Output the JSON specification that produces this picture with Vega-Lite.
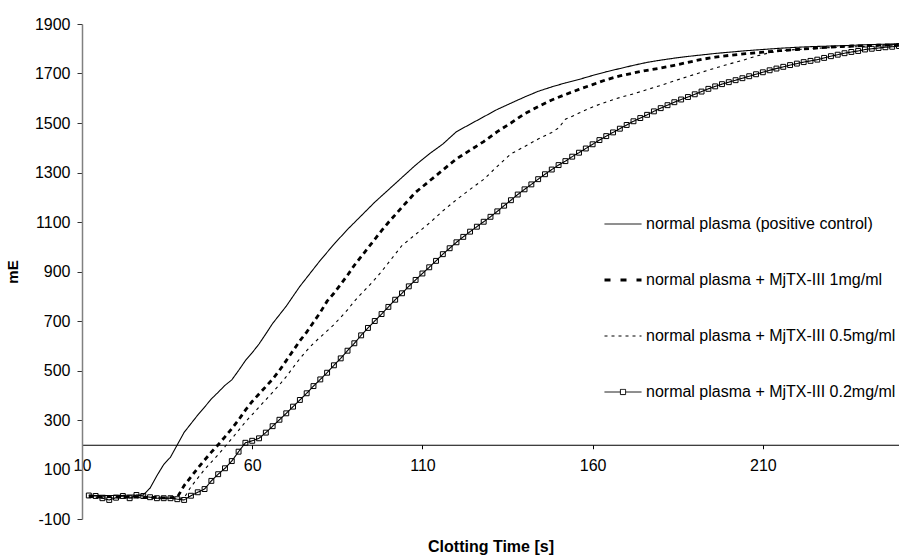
{
  "$schema": "https://vega.github.io/schema/vega-lite/v6.json",
  "width": 817,
  "height": 495,
  "autosize": {"type": "none"},
  "padding": {"left": 82, "top": 24, "right": 0, "bottom": 37},
  "background": "white",
  "config": {
    "view": {"stroke": null},
    "font": "Liberation Sans",
    "axis": {"grid": false, "labelFont": "Liberation Sans", "titleFont": "Liberation Sans", "labelColor": "#000", "titleColor": "#000"}
  },
  "datasets": {
    "clotting": [
      {"t": 12, "mE": -3, "sample": "normal plasma (positive control)"},
      {"t": 14, "mE": -5, "sample": "normal plasma (positive control)"},
      {"t": 16, "mE": -4, "sample": "normal plasma (positive control)"},
      {"t": 18, "mE": -6, "sample": "normal plasma (positive control)"},
      {"t": 20, "mE": -4, "sample": "normal plasma (positive control)"},
      {"t": 22, "mE": -5, "sample": "normal plasma (positive control)"},
      {"t": 24, "mE": -3, "sample": "normal plasma (positive control)"},
      {"t": 26, "mE": -4, "sample": "normal plasma (positive control)"},
      {"t": 28, "mE": -3, "sample": "normal plasma (positive control)"},
      {"t": 30, "mE": 25, "sample": "normal plasma (positive control)"},
      {"t": 32, "mE": 75, "sample": "normal plasma (positive control)"},
      {"t": 34, "mE": 120, "sample": "normal plasma (positive control)"},
      {"t": 36, "mE": 150, "sample": "normal plasma (positive control)"},
      {"t": 38, "mE": 200, "sample": "normal plasma (positive control)"},
      {"t": 40, "mE": 250, "sample": "normal plasma (positive control)"},
      {"t": 42, "mE": 285, "sample": "normal plasma (positive control)"},
      {"t": 44, "mE": 320, "sample": "normal plasma (positive control)"},
      {"t": 46, "mE": 352, "sample": "normal plasma (positive control)"},
      {"t": 48, "mE": 385, "sample": "normal plasma (positive control)"},
      {"t": 50, "mE": 412, "sample": "normal plasma (positive control)"},
      {"t": 52, "mE": 440, "sample": "normal plasma (positive control)"},
      {"t": 54, "mE": 462, "sample": "normal plasma (positive control)"},
      {"t": 56, "mE": 500, "sample": "normal plasma (positive control)"},
      {"t": 58, "mE": 540, "sample": "normal plasma (positive control)"},
      {"t": 60, "mE": 572, "sample": "normal plasma (positive control)"},
      {"t": 62, "mE": 607, "sample": "normal plasma (positive control)"},
      {"t": 64, "mE": 648, "sample": "normal plasma (positive control)"},
      {"t": 66, "mE": 690, "sample": "normal plasma (positive control)"},
      {"t": 68, "mE": 725, "sample": "normal plasma (positive control)"},
      {"t": 70, "mE": 760, "sample": "normal plasma (positive control)"},
      {"t": 72, "mE": 800, "sample": "normal plasma (positive control)"},
      {"t": 74, "mE": 840, "sample": "normal plasma (positive control)"},
      {"t": 76, "mE": 875, "sample": "normal plasma (positive control)"},
      {"t": 78, "mE": 910, "sample": "normal plasma (positive control)"},
      {"t": 80, "mE": 945, "sample": "normal plasma (positive control)"},
      {"t": 84, "mE": 1010, "sample": "normal plasma (positive control)"},
      {"t": 88, "mE": 1070, "sample": "normal plasma (positive control)"},
      {"t": 92, "mE": 1125, "sample": "normal plasma (positive control)"},
      {"t": 96, "mE": 1180, "sample": "normal plasma (positive control)"},
      {"t": 100, "mE": 1230, "sample": "normal plasma (positive control)"},
      {"t": 104, "mE": 1280, "sample": "normal plasma (positive control)"},
      {"t": 108, "mE": 1330, "sample": "normal plasma (positive control)"},
      {"t": 112, "mE": 1375, "sample": "normal plasma (positive control)"},
      {"t": 116, "mE": 1415, "sample": "normal plasma (positive control)"},
      {"t": 120, "mE": 1465, "sample": "normal plasma (positive control)"},
      {"t": 124, "mE": 1495, "sample": "normal plasma (positive control)"},
      {"t": 128, "mE": 1525, "sample": "normal plasma (positive control)"},
      {"t": 132, "mE": 1555, "sample": "normal plasma (positive control)"},
      {"t": 136, "mE": 1580, "sample": "normal plasma (positive control)"},
      {"t": 140, "mE": 1605, "sample": "normal plasma (positive control)"},
      {"t": 144, "mE": 1628, "sample": "normal plasma (positive control)"},
      {"t": 148, "mE": 1646, "sample": "normal plasma (positive control)"},
      {"t": 152, "mE": 1662, "sample": "normal plasma (positive control)"},
      {"t": 156, "mE": 1676, "sample": "normal plasma (positive control)"},
      {"t": 160, "mE": 1692, "sample": "normal plasma (positive control)"},
      {"t": 164, "mE": 1707, "sample": "normal plasma (positive control)"},
      {"t": 168, "mE": 1720, "sample": "normal plasma (positive control)"},
      {"t": 172, "mE": 1733, "sample": "normal plasma (positive control)"},
      {"t": 176, "mE": 1745, "sample": "normal plasma (positive control)"},
      {"t": 180, "mE": 1754, "sample": "normal plasma (positive control)"},
      {"t": 184, "mE": 1762, "sample": "normal plasma (positive control)"},
      {"t": 188, "mE": 1769, "sample": "normal plasma (positive control)"},
      {"t": 192, "mE": 1775, "sample": "normal plasma (positive control)"},
      {"t": 196, "mE": 1781, "sample": "normal plasma (positive control)"},
      {"t": 200, "mE": 1786, "sample": "normal plasma (positive control)"},
      {"t": 205, "mE": 1792, "sample": "normal plasma (positive control)"},
      {"t": 210, "mE": 1797, "sample": "normal plasma (positive control)"},
      {"t": 215, "mE": 1802, "sample": "normal plasma (positive control)"},
      {"t": 220, "mE": 1806, "sample": "normal plasma (positive control)"},
      {"t": 225, "mE": 1809, "sample": "normal plasma (positive control)"},
      {"t": 230, "mE": 1811, "sample": "normal plasma (positive control)"},
      {"t": 235, "mE": 1813, "sample": "normal plasma (positive control)"},
      {"t": 240, "mE": 1816, "sample": "normal plasma (positive control)"},
      {"t": 245, "mE": 1818, "sample": "normal plasma (positive control)"},
      {"t": 250, "mE": 1819, "sample": "normal plasma (positive control)"},

      {"t": 12, "mE": -8, "sample": "normal plasma + MjTX-III 1mg/ml"},
      {"t": 14, "mE": -10, "sample": "normal plasma + MjTX-III 1mg/ml"},
      {"t": 16, "mE": -12, "sample": "normal plasma + MjTX-III 1mg/ml"},
      {"t": 18, "mE": -9, "sample": "normal plasma + MjTX-III 1mg/ml"},
      {"t": 20, "mE": -11, "sample": "normal plasma + MjTX-III 1mg/ml"},
      {"t": 22, "mE": -13, "sample": "normal plasma + MjTX-III 1mg/ml"},
      {"t": 24, "mE": -10, "sample": "normal plasma + MjTX-III 1mg/ml"},
      {"t": 26, "mE": -12, "sample": "normal plasma + MjTX-III 1mg/ml"},
      {"t": 28, "mE": -14, "sample": "normal plasma + MjTX-III 1mg/ml"},
      {"t": 30, "mE": -12, "sample": "normal plasma + MjTX-III 1mg/ml"},
      {"t": 32, "mE": -13, "sample": "normal plasma + MjTX-III 1mg/ml"},
      {"t": 34, "mE": -15, "sample": "normal plasma + MjTX-III 1mg/ml"},
      {"t": 36, "mE": -14, "sample": "normal plasma + MjTX-III 1mg/ml"},
      {"t": 38, "mE": -12, "sample": "normal plasma + MjTX-III 1mg/ml"},
      {"t": 40, "mE": 35, "sample": "normal plasma + MjTX-III 1mg/ml"},
      {"t": 42, "mE": 70, "sample": "normal plasma + MjTX-III 1mg/ml"},
      {"t": 44, "mE": 105, "sample": "normal plasma + MjTX-III 1mg/ml"},
      {"t": 46, "mE": 138, "sample": "normal plasma + MjTX-III 1mg/ml"},
      {"t": 48, "mE": 170, "sample": "normal plasma + MjTX-III 1mg/ml"},
      {"t": 50, "mE": 200, "sample": "normal plasma + MjTX-III 1mg/ml"},
      {"t": 52, "mE": 232, "sample": "normal plasma + MjTX-III 1mg/ml"},
      {"t": 54, "mE": 265, "sample": "normal plasma + MjTX-III 1mg/ml"},
      {"t": 56, "mE": 300, "sample": "normal plasma + MjTX-III 1mg/ml"},
      {"t": 58, "mE": 340, "sample": "normal plasma + MjTX-III 1mg/ml"},
      {"t": 60, "mE": 375, "sample": "normal plasma + MjTX-III 1mg/ml"},
      {"t": 62, "mE": 405, "sample": "normal plasma + MjTX-III 1mg/ml"},
      {"t": 64, "mE": 435, "sample": "normal plasma + MjTX-III 1mg/ml"},
      {"t": 66, "mE": 465, "sample": "normal plasma + MjTX-III 1mg/ml"},
      {"t": 68, "mE": 500, "sample": "normal plasma + MjTX-III 1mg/ml"},
      {"t": 70, "mE": 540, "sample": "normal plasma + MjTX-III 1mg/ml"},
      {"t": 72, "mE": 580, "sample": "normal plasma + MjTX-III 1mg/ml"},
      {"t": 74, "mE": 620, "sample": "normal plasma + MjTX-III 1mg/ml"},
      {"t": 76, "mE": 655, "sample": "normal plasma + MjTX-III 1mg/ml"},
      {"t": 78, "mE": 695, "sample": "normal plasma + MjTX-III 1mg/ml"},
      {"t": 80, "mE": 735, "sample": "normal plasma + MjTX-III 1mg/ml"},
      {"t": 82, "mE": 780, "sample": "normal plasma + MjTX-III 1mg/ml"},
      {"t": 84, "mE": 812, "sample": "normal plasma + MjTX-III 1mg/ml"},
      {"t": 86, "mE": 848, "sample": "normal plasma + MjTX-III 1mg/ml"},
      {"t": 88, "mE": 885, "sample": "normal plasma + MjTX-III 1mg/ml"},
      {"t": 90, "mE": 925, "sample": "normal plasma + MjTX-III 1mg/ml"},
      {"t": 92, "mE": 960, "sample": "normal plasma + MjTX-III 1mg/ml"},
      {"t": 94, "mE": 995, "sample": "normal plasma + MjTX-III 1mg/ml"},
      {"t": 96, "mE": 1030, "sample": "normal plasma + MjTX-III 1mg/ml"},
      {"t": 98, "mE": 1065, "sample": "normal plasma + MjTX-III 1mg/ml"},
      {"t": 100, "mE": 1098, "sample": "normal plasma + MjTX-III 1mg/ml"},
      {"t": 104, "mE": 1160, "sample": "normal plasma + MjTX-III 1mg/ml"},
      {"t": 108, "mE": 1220, "sample": "normal plasma + MjTX-III 1mg/ml"},
      {"t": 112, "mE": 1265, "sample": "normal plasma + MjTX-III 1mg/ml"},
      {"t": 116, "mE": 1310, "sample": "normal plasma + MjTX-III 1mg/ml"},
      {"t": 120, "mE": 1355, "sample": "normal plasma + MjTX-III 1mg/ml"},
      {"t": 124, "mE": 1390, "sample": "normal plasma + MjTX-III 1mg/ml"},
      {"t": 128, "mE": 1425, "sample": "normal plasma + MjTX-III 1mg/ml"},
      {"t": 132, "mE": 1465, "sample": "normal plasma + MjTX-III 1mg/ml"},
      {"t": 136, "mE": 1500, "sample": "normal plasma + MjTX-III 1mg/ml"},
      {"t": 140, "mE": 1537, "sample": "normal plasma + MjTX-III 1mg/ml"},
      {"t": 144, "mE": 1566, "sample": "normal plasma + MjTX-III 1mg/ml"},
      {"t": 148, "mE": 1593, "sample": "normal plasma + MjTX-III 1mg/ml"},
      {"t": 152, "mE": 1615, "sample": "normal plasma + MjTX-III 1mg/ml"},
      {"t": 156, "mE": 1636, "sample": "normal plasma + MjTX-III 1mg/ml"},
      {"t": 160, "mE": 1655, "sample": "normal plasma + MjTX-III 1mg/ml"},
      {"t": 164, "mE": 1675, "sample": "normal plasma + MjTX-III 1mg/ml"},
      {"t": 168, "mE": 1690, "sample": "normal plasma + MjTX-III 1mg/ml"},
      {"t": 172, "mE": 1702, "sample": "normal plasma + MjTX-III 1mg/ml"},
      {"t": 176, "mE": 1713, "sample": "normal plasma + MjTX-III 1mg/ml"},
      {"t": 180, "mE": 1722, "sample": "normal plasma + MjTX-III 1mg/ml"},
      {"t": 184, "mE": 1733, "sample": "normal plasma + MjTX-III 1mg/ml"},
      {"t": 188, "mE": 1745, "sample": "normal plasma + MjTX-III 1mg/ml"},
      {"t": 192, "mE": 1757, "sample": "normal plasma + MjTX-III 1mg/ml"},
      {"t": 196, "mE": 1766, "sample": "normal plasma + MjTX-III 1mg/ml"},
      {"t": 200, "mE": 1773, "sample": "normal plasma + MjTX-III 1mg/ml"},
      {"t": 205, "mE": 1780, "sample": "normal plasma + MjTX-III 1mg/ml"},
      {"t": 210, "mE": 1786, "sample": "normal plasma + MjTX-III 1mg/ml"},
      {"t": 215, "mE": 1792, "sample": "normal plasma + MjTX-III 1mg/ml"},
      {"t": 220, "mE": 1797, "sample": "normal plasma + MjTX-III 1mg/ml"},
      {"t": 225, "mE": 1802, "sample": "normal plasma + MjTX-III 1mg/ml"},
      {"t": 230, "mE": 1807, "sample": "normal plasma + MjTX-III 1mg/ml"},
      {"t": 235, "mE": 1810, "sample": "normal plasma + MjTX-III 1mg/ml"},
      {"t": 240, "mE": 1813, "sample": "normal plasma + MjTX-III 1mg/ml"},
      {"t": 245, "mE": 1815, "sample": "normal plasma + MjTX-III 1mg/ml"},
      {"t": 250, "mE": 1816, "sample": "normal plasma + MjTX-III 1mg/ml"},

      {"t": 12, "mE": -12, "sample": "normal plasma + MjTX-III 0.5mg/ml"},
      {"t": 14, "mE": -14, "sample": "normal plasma + MjTX-III 0.5mg/ml"},
      {"t": 16, "mE": -10, "sample": "normal plasma + MjTX-III 0.5mg/ml"},
      {"t": 18, "mE": -13, "sample": "normal plasma + MjTX-III 0.5mg/ml"},
      {"t": 20, "mE": -15, "sample": "normal plasma + MjTX-III 0.5mg/ml"},
      {"t": 22, "mE": -12, "sample": "normal plasma + MjTX-III 0.5mg/ml"},
      {"t": 24, "mE": -16, "sample": "normal plasma + MjTX-III 0.5mg/ml"},
      {"t": 26, "mE": -13, "sample": "normal plasma + MjTX-III 0.5mg/ml"},
      {"t": 28, "mE": -15, "sample": "normal plasma + MjTX-III 0.5mg/ml"},
      {"t": 30, "mE": -17, "sample": "normal plasma + MjTX-III 0.5mg/ml"},
      {"t": 32, "mE": -14, "sample": "normal plasma + MjTX-III 0.5mg/ml"},
      {"t": 34, "mE": -16, "sample": "normal plasma + MjTX-III 0.5mg/ml"},
      {"t": 36, "mE": -15, "sample": "normal plasma + MjTX-III 0.5mg/ml"},
      {"t": 38, "mE": -17, "sample": "normal plasma + MjTX-III 0.5mg/ml"},
      {"t": 40, "mE": -15, "sample": "normal plasma + MjTX-III 0.5mg/ml"},
      {"t": 42, "mE": 30, "sample": "normal plasma + MjTX-III 0.5mg/ml"},
      {"t": 44, "mE": 65, "sample": "normal plasma + MjTX-III 0.5mg/ml"},
      {"t": 46, "mE": 100, "sample": "normal plasma + MjTX-III 0.5mg/ml"},
      {"t": 48, "mE": 130, "sample": "normal plasma + MjTX-III 0.5mg/ml"},
      {"t": 50, "mE": 160, "sample": "normal plasma + MjTX-III 0.5mg/ml"},
      {"t": 52, "mE": 192, "sample": "normal plasma + MjTX-III 0.5mg/ml"},
      {"t": 54, "mE": 225, "sample": "normal plasma + MjTX-III 0.5mg/ml"},
      {"t": 56, "mE": 258, "sample": "normal plasma + MjTX-III 0.5mg/ml"},
      {"t": 58, "mE": 292, "sample": "normal plasma + MjTX-III 0.5mg/ml"},
      {"t": 60, "mE": 322, "sample": "normal plasma + MjTX-III 0.5mg/ml"},
      {"t": 62, "mE": 352, "sample": "normal plasma + MjTX-III 0.5mg/ml"},
      {"t": 64, "mE": 382, "sample": "normal plasma + MjTX-III 0.5mg/ml"},
      {"t": 66, "mE": 412, "sample": "normal plasma + MjTX-III 0.5mg/ml"},
      {"t": 68, "mE": 442, "sample": "normal plasma + MjTX-III 0.5mg/ml"},
      {"t": 70, "mE": 475, "sample": "normal plasma + MjTX-III 0.5mg/ml"},
      {"t": 72, "mE": 512, "sample": "normal plasma + MjTX-III 0.5mg/ml"},
      {"t": 74, "mE": 548, "sample": "normal plasma + MjTX-III 0.5mg/ml"},
      {"t": 76, "mE": 580, "sample": "normal plasma + MjTX-III 0.5mg/ml"},
      {"t": 78, "mE": 610, "sample": "normal plasma + MjTX-III 0.5mg/ml"},
      {"t": 80, "mE": 635, "sample": "normal plasma + MjTX-III 0.5mg/ml"},
      {"t": 82, "mE": 660, "sample": "normal plasma + MjTX-III 0.5mg/ml"},
      {"t": 84, "mE": 685, "sample": "normal plasma + MjTX-III 0.5mg/ml"},
      {"t": 86, "mE": 715, "sample": "normal plasma + MjTX-III 0.5mg/ml"},
      {"t": 88, "mE": 745, "sample": "normal plasma + MjTX-III 0.5mg/ml"},
      {"t": 90, "mE": 780, "sample": "normal plasma + MjTX-III 0.5mg/ml"},
      {"t": 92, "mE": 810, "sample": "normal plasma + MjTX-III 0.5mg/ml"},
      {"t": 94, "mE": 838, "sample": "normal plasma + MjTX-III 0.5mg/ml"},
      {"t": 96, "mE": 868, "sample": "normal plasma + MjTX-III 0.5mg/ml"},
      {"t": 98, "mE": 900, "sample": "normal plasma + MjTX-III 0.5mg/ml"},
      {"t": 100, "mE": 935, "sample": "normal plasma + MjTX-III 0.5mg/ml"},
      {"t": 104, "mE": 1005, "sample": "normal plasma + MjTX-III 0.5mg/ml"},
      {"t": 108, "mE": 1050, "sample": "normal plasma + MjTX-III 0.5mg/ml"},
      {"t": 112, "mE": 1095, "sample": "normal plasma + MjTX-III 0.5mg/ml"},
      {"t": 116, "mE": 1145, "sample": "normal plasma + MjTX-III 0.5mg/ml"},
      {"t": 120, "mE": 1190, "sample": "normal plasma + MjTX-III 0.5mg/ml"},
      {"t": 124, "mE": 1232, "sample": "normal plasma + MjTX-III 0.5mg/ml"},
      {"t": 128, "mE": 1272, "sample": "normal plasma + MjTX-III 0.5mg/ml"},
      {"t": 132, "mE": 1325, "sample": "normal plasma + MjTX-III 0.5mg/ml"},
      {"t": 136, "mE": 1375, "sample": "normal plasma + MjTX-III 0.5mg/ml"},
      {"t": 140, "mE": 1405, "sample": "normal plasma + MjTX-III 0.5mg/ml"},
      {"t": 144, "mE": 1435, "sample": "normal plasma + MjTX-III 0.5mg/ml"},
      {"t": 148, "mE": 1462, "sample": "normal plasma + MjTX-III 0.5mg/ml"},
      {"t": 150, "mE": 1480, "sample": "normal plasma + MjTX-III 0.5mg/ml"},
      {"t": 152, "mE": 1515, "sample": "normal plasma + MjTX-III 0.5mg/ml"},
      {"t": 156, "mE": 1540, "sample": "normal plasma + MjTX-III 0.5mg/ml"},
      {"t": 160, "mE": 1565, "sample": "normal plasma + MjTX-III 0.5mg/ml"},
      {"t": 164, "mE": 1585, "sample": "normal plasma + MjTX-III 0.5mg/ml"},
      {"t": 168, "mE": 1603, "sample": "normal plasma + MjTX-III 0.5mg/ml"},
      {"t": 172, "mE": 1618, "sample": "normal plasma + MjTX-III 0.5mg/ml"},
      {"t": 176, "mE": 1635, "sample": "normal plasma + MjTX-III 0.5mg/ml"},
      {"t": 180, "mE": 1652, "sample": "normal plasma + MjTX-III 0.5mg/ml"},
      {"t": 184, "mE": 1670, "sample": "normal plasma + MjTX-III 0.5mg/ml"},
      {"t": 188, "mE": 1688, "sample": "normal plasma + MjTX-III 0.5mg/ml"},
      {"t": 192, "mE": 1705, "sample": "normal plasma + MjTX-III 0.5mg/ml"},
      {"t": 196, "mE": 1722, "sample": "normal plasma + MjTX-III 0.5mg/ml"},
      {"t": 200, "mE": 1738, "sample": "normal plasma + MjTX-III 0.5mg/ml"},
      {"t": 204, "mE": 1753, "sample": "normal plasma + MjTX-III 0.5mg/ml"},
      {"t": 208, "mE": 1770, "sample": "normal plasma + MjTX-III 0.5mg/ml"},
      {"t": 212, "mE": 1784, "sample": "normal plasma + MjTX-III 0.5mg/ml"},
      {"t": 216, "mE": 1793, "sample": "normal plasma + MjTX-III 0.5mg/ml"},
      {"t": 220, "mE": 1797, "sample": "normal plasma + MjTX-III 0.5mg/ml"},
      {"t": 225, "mE": 1801, "sample": "normal plasma + MjTX-III 0.5mg/ml"},
      {"t": 230, "mE": 1805, "sample": "normal plasma + MjTX-III 0.5mg/ml"},
      {"t": 235, "mE": 1807, "sample": "normal plasma + MjTX-III 0.5mg/ml"},
      {"t": 240, "mE": 1809, "sample": "normal plasma + MjTX-III 0.5mg/ml"},
      {"t": 245, "mE": 1811, "sample": "normal plasma + MjTX-III 0.5mg/ml"},
      {"t": 250, "mE": 1812, "sample": "normal plasma + MjTX-III 0.5mg/ml"},

      {"t": 12, "mE": -5, "sample": "normal plasma + MjTX-III 0.2mg/ml"},
      {"t": 14, "mE": -7, "sample": "normal plasma + MjTX-III 0.2mg/ml"},
      {"t": 16, "mE": -16, "sample": "normal plasma + MjTX-III 0.2mg/ml"},
      {"t": 18, "mE": -23, "sample": "normal plasma + MjTX-III 0.2mg/ml"},
      {"t": 20, "mE": -14, "sample": "normal plasma + MjTX-III 0.2mg/ml"},
      {"t": 22, "mE": -7, "sample": "normal plasma + MjTX-III 0.2mg/ml"},
      {"t": 24, "mE": -16, "sample": "normal plasma + MjTX-III 0.2mg/ml"},
      {"t": 26, "mE": -3, "sample": "normal plasma + MjTX-III 0.2mg/ml"},
      {"t": 28, "mE": -7, "sample": "normal plasma + MjTX-III 0.2mg/ml"},
      {"t": 30, "mE": -12, "sample": "normal plasma + MjTX-III 0.2mg/ml"},
      {"t": 32, "mE": -16, "sample": "normal plasma + MjTX-III 0.2mg/ml"},
      {"t": 34, "mE": -16, "sample": "normal plasma + MjTX-III 0.2mg/ml"},
      {"t": 36, "mE": -16, "sample": "normal plasma + MjTX-III 0.2mg/ml"},
      {"t": 38, "mE": -20, "sample": "normal plasma + MjTX-III 0.2mg/ml"},
      {"t": 40, "mE": -23, "sample": "normal plasma + MjTX-III 0.2mg/ml"},
      {"t": 42, "mE": -6, "sample": "normal plasma + MjTX-III 0.2mg/ml"},
      {"t": 44, "mE": 8, "sample": "normal plasma + MjTX-III 0.2mg/ml"},
      {"t": 46, "mE": 21, "sample": "normal plasma + MjTX-III 0.2mg/ml"},
      {"t": 48, "mE": 54, "sample": "normal plasma + MjTX-III 0.2mg/ml"},
      {"t": 50, "mE": 81, "sample": "normal plasma + MjTX-III 0.2mg/ml"},
      {"t": 52, "mE": 105, "sample": "normal plasma + MjTX-III 0.2mg/ml"},
      {"t": 54, "mE": 134, "sample": "normal plasma + MjTX-III 0.2mg/ml"},
      {"t": 56, "mE": 172, "sample": "normal plasma + MjTX-III 0.2mg/ml"},
      {"t": 58, "mE": 208, "sample": "normal plasma + MjTX-III 0.2mg/ml"},
      {"t": 60, "mE": 216, "sample": "normal plasma + MjTX-III 0.2mg/ml"},
      {"t": 62, "mE": 226, "sample": "normal plasma + MjTX-III 0.2mg/ml"},
      {"t": 64, "mE": 249, "sample": "normal plasma + MjTX-III 0.2mg/ml"},
      {"t": 66, "mE": 275, "sample": "normal plasma + MjTX-III 0.2mg/ml"},
      {"t": 68, "mE": 301, "sample": "normal plasma + MjTX-III 0.2mg/ml"},
      {"t": 70, "mE": 327, "sample": "normal plasma + MjTX-III 0.2mg/ml"},
      {"t": 72, "mE": 354, "sample": "normal plasma + MjTX-III 0.2mg/ml"},
      {"t": 74, "mE": 381, "sample": "normal plasma + MjTX-III 0.2mg/ml"},
      {"t": 76, "mE": 408, "sample": "normal plasma + MjTX-III 0.2mg/ml"},
      {"t": 78, "mE": 437, "sample": "normal plasma + MjTX-III 0.2mg/ml"},
      {"t": 80, "mE": 464, "sample": "normal plasma + MjTX-III 0.2mg/ml"},
      {"t": 82, "mE": 491, "sample": "normal plasma + MjTX-III 0.2mg/ml"},
      {"t": 84, "mE": 521, "sample": "normal plasma + MjTX-III 0.2mg/ml"},
      {"t": 86, "mE": 549, "sample": "normal plasma + MjTX-III 0.2mg/ml"},
      {"t": 88, "mE": 580, "sample": "normal plasma + MjTX-III 0.2mg/ml"},
      {"t": 90, "mE": 610, "sample": "normal plasma + MjTX-III 0.2mg/ml"},
      {"t": 92, "mE": 642, "sample": "normal plasma + MjTX-III 0.2mg/ml"},
      {"t": 94, "mE": 672, "sample": "normal plasma + MjTX-III 0.2mg/ml"},
      {"t": 96, "mE": 700, "sample": "normal plasma + MjTX-III 0.2mg/ml"},
      {"t": 98, "mE": 728, "sample": "normal plasma + MjTX-III 0.2mg/ml"},
      {"t": 100, "mE": 757, "sample": "normal plasma + MjTX-III 0.2mg/ml"},
      {"t": 102, "mE": 786, "sample": "normal plasma + MjTX-III 0.2mg/ml"},
      {"t": 104, "mE": 812, "sample": "normal plasma + MjTX-III 0.2mg/ml"},
      {"t": 106, "mE": 840, "sample": "normal plasma + MjTX-III 0.2mg/ml"},
      {"t": 108, "mE": 866, "sample": "normal plasma + MjTX-III 0.2mg/ml"},
      {"t": 110, "mE": 892, "sample": "normal plasma + MjTX-III 0.2mg/ml"},
      {"t": 112, "mE": 917, "sample": "normal plasma + MjTX-III 0.2mg/ml"},
      {"t": 114, "mE": 943, "sample": "normal plasma + MjTX-III 0.2mg/ml"},
      {"t": 116, "mE": 970, "sample": "normal plasma + MjTX-III 0.2mg/ml"},
      {"t": 118, "mE": 994, "sample": "normal plasma + MjTX-III 0.2mg/ml"},
      {"t": 120, "mE": 1018, "sample": "normal plasma + MjTX-III 0.2mg/ml"},
      {"t": 122, "mE": 1040, "sample": "normal plasma + MjTX-III 0.2mg/ml"},
      {"t": 124, "mE": 1061, "sample": "normal plasma + MjTX-III 0.2mg/ml"},
      {"t": 126, "mE": 1081, "sample": "normal plasma + MjTX-III 0.2mg/ml"},
      {"t": 128, "mE": 1101, "sample": "normal plasma + MjTX-III 0.2mg/ml"},
      {"t": 130, "mE": 1121, "sample": "normal plasma + MjTX-III 0.2mg/ml"},
      {"t": 132, "mE": 1143, "sample": "normal plasma + MjTX-III 0.2mg/ml"},
      {"t": 134, "mE": 1166, "sample": "normal plasma + MjTX-III 0.2mg/ml"},
      {"t": 136, "mE": 1188, "sample": "normal plasma + MjTX-III 0.2mg/ml"},
      {"t": 138, "mE": 1211, "sample": "normal plasma + MjTX-III 0.2mg/ml"},
      {"t": 140, "mE": 1232, "sample": "normal plasma + MjTX-III 0.2mg/ml"},
      {"t": 142, "mE": 1252, "sample": "normal plasma + MjTX-III 0.2mg/ml"},
      {"t": 144, "mE": 1273, "sample": "normal plasma + MjTX-III 0.2mg/ml"},
      {"t": 146, "mE": 1293, "sample": "normal plasma + MjTX-III 0.2mg/ml"},
      {"t": 148, "mE": 1312, "sample": "normal plasma + MjTX-III 0.2mg/ml"},
      {"t": 150, "mE": 1330, "sample": "normal plasma + MjTX-III 0.2mg/ml"},
      {"t": 152, "mE": 1346, "sample": "normal plasma + MjTX-III 0.2mg/ml"},
      {"t": 154, "mE": 1364, "sample": "normal plasma + MjTX-III 0.2mg/ml"},
      {"t": 156, "mE": 1380, "sample": "normal plasma + MjTX-III 0.2mg/ml"},
      {"t": 158, "mE": 1397, "sample": "normal plasma + MjTX-III 0.2mg/ml"},
      {"t": 160, "mE": 1414, "sample": "normal plasma + MjTX-III 0.2mg/ml"},
      {"t": 162, "mE": 1431, "sample": "normal plasma + MjTX-III 0.2mg/ml"},
      {"t": 164, "mE": 1447, "sample": "normal plasma + MjTX-III 0.2mg/ml"},
      {"t": 166, "mE": 1462, "sample": "normal plasma + MjTX-III 0.2mg/ml"},
      {"t": 168, "mE": 1477, "sample": "normal plasma + MjTX-III 0.2mg/ml"},
      {"t": 170, "mE": 1492, "sample": "normal plasma + MjTX-III 0.2mg/ml"},
      {"t": 172, "mE": 1507, "sample": "normal plasma + MjTX-III 0.2mg/ml"},
      {"t": 174, "mE": 1520, "sample": "normal plasma + MjTX-III 0.2mg/ml"},
      {"t": 176, "mE": 1533, "sample": "normal plasma + MjTX-III 0.2mg/ml"},
      {"t": 178, "mE": 1547, "sample": "normal plasma + MjTX-III 0.2mg/ml"},
      {"t": 180, "mE": 1560, "sample": "normal plasma + MjTX-III 0.2mg/ml"},
      {"t": 182, "mE": 1572, "sample": "normal plasma + MjTX-III 0.2mg/ml"},
      {"t": 184, "mE": 1584, "sample": "normal plasma + MjTX-III 0.2mg/ml"},
      {"t": 186, "mE": 1595, "sample": "normal plasma + MjTX-III 0.2mg/ml"},
      {"t": 188, "mE": 1605, "sample": "normal plasma + MjTX-III 0.2mg/ml"},
      {"t": 190, "mE": 1616, "sample": "normal plasma + MjTX-III 0.2mg/ml"},
      {"t": 192, "mE": 1627, "sample": "normal plasma + MjTX-III 0.2mg/ml"},
      {"t": 194, "mE": 1638, "sample": "normal plasma + MjTX-III 0.2mg/ml"},
      {"t": 196, "mE": 1648, "sample": "normal plasma + MjTX-III 0.2mg/ml"},
      {"t": 198, "mE": 1657, "sample": "normal plasma + MjTX-III 0.2mg/ml"},
      {"t": 200, "mE": 1665, "sample": "normal plasma + MjTX-III 0.2mg/ml"},
      {"t": 202, "mE": 1673, "sample": "normal plasma + MjTX-III 0.2mg/ml"},
      {"t": 204, "mE": 1681, "sample": "normal plasma + MjTX-III 0.2mg/ml"},
      {"t": 206, "mE": 1689, "sample": "normal plasma + MjTX-III 0.2mg/ml"},
      {"t": 208, "mE": 1697, "sample": "normal plasma + MjTX-III 0.2mg/ml"},
      {"t": 210, "mE": 1705, "sample": "normal plasma + MjTX-III 0.2mg/ml"},
      {"t": 212, "mE": 1713, "sample": "normal plasma + MjTX-III 0.2mg/ml"},
      {"t": 214, "mE": 1720, "sample": "normal plasma + MjTX-III 0.2mg/ml"},
      {"t": 216, "mE": 1727, "sample": "normal plasma + MjTX-III 0.2mg/ml"},
      {"t": 218, "mE": 1734, "sample": "normal plasma + MjTX-III 0.2mg/ml"},
      {"t": 220, "mE": 1740, "sample": "normal plasma + MjTX-III 0.2mg/ml"},
      {"t": 222, "mE": 1746, "sample": "normal plasma + MjTX-III 0.2mg/ml"},
      {"t": 224, "mE": 1751, "sample": "normal plasma + MjTX-III 0.2mg/ml"},
      {"t": 226, "mE": 1756, "sample": "normal plasma + MjTX-III 0.2mg/ml"},
      {"t": 228, "mE": 1763, "sample": "normal plasma + MjTX-III 0.2mg/ml"},
      {"t": 230, "mE": 1770, "sample": "normal plasma + MjTX-III 0.2mg/ml"},
      {"t": 232, "mE": 1776, "sample": "normal plasma + MjTX-III 0.2mg/ml"},
      {"t": 234, "mE": 1782, "sample": "normal plasma + MjTX-III 0.2mg/ml"},
      {"t": 236, "mE": 1787, "sample": "normal plasma + MjTX-III 0.2mg/ml"},
      {"t": 238, "mE": 1791, "sample": "normal plasma + MjTX-III 0.2mg/ml"},
      {"t": 240, "mE": 1797, "sample": "normal plasma + MjTX-III 0.2mg/ml"},
      {"t": 242, "mE": 1800, "sample": "normal plasma + MjTX-III 0.2mg/ml"},
      {"t": 244, "mE": 1803, "sample": "normal plasma + MjTX-III 0.2mg/ml"},
      {"t": 246, "mE": 1806, "sample": "normal plasma + MjTX-III 0.2mg/ml"},
      {"t": 248, "mE": 1808, "sample": "normal plasma + MjTX-III 0.2mg/ml"},
      {"t": 250, "mE": 1811, "sample": "normal plasma + MjTX-III 0.2mg/ml"}
    ]
  },
  "data": {"name": "clotting"},
  "encoding": {
    "x": {
      "field": "t",
      "type": "quantitative",
      "scale": {"domain": [10, 250], "nice": false, "zero": false},
      "axis": {
        "title": "Clotting Time [s]",
        "titleFontSize": 16,
        "titleFontWeight": "bold",
        "titlePadding": 65,
        "values": [10, 60, 110, 160, 210],
        "offset": -74.25,
        "domainColor": "#000",
        "domainWidth": 1,
        "tickColor": "#000",
        "tickSize": 4,
        "labelFontSize": 16,
        "labelPadding": 9,
        "labelFlush": false
      }
    },
    "y": {
      "field": "mE",
      "type": "quantitative",
      "scale": {"domain": [-100, 1900], "nice": false, "zero": false},
      "axis": {
        "title": "mE",
        "titleFontSize": 15,
        "titleFontWeight": "bold",
        "titlePadding": 14,
        "values": [-100, 100, 300, 500, 700, 900, 1100, 1300, 1500, 1700, 1900],
        "labelExpr": "'' + datum.value",
        "domainColor": "#808080",
        "domainWidth": 1.5,
        "tickColor": "#333",
        "tickSize": 5,
        "labelFontSize": 16,
        "labelPadding": 7
      }
    }
  },
  "layer": [
    {
      "transform": [{"filter": "datum.sample !== 'normal plasma + MjTX-III 1mg/ml'"}],
      "mark": {"type": "line", "color": "#000", "strokeWidth": 1.1, "interpolate": "linear"},
      "encoding": {
        "strokeDash": {
          "field": "sample",
          "type": "nominal",
          "scale": {
            "domain": ["normal plasma (positive control)", "normal plasma + MjTX-III 1mg/ml", "normal plasma + MjTX-III 0.5mg/ml", "normal plasma + MjTX-III 0.2mg/ml"],
            "range": [[1, 0], [6, 10], [3, 4], [1, 0]]
          },
          "legend": {
            "title": null,
            "orient": "none",
            "legendX": 533,
            "legendY": 192,
            "symbolType": "stroke",
            "symbolSize": 1369,
            "symbolStrokeColor": "#000",
            "symbolStrokeWidth": 1,
            "labelFontSize": 16,
            "labelFont": "Liberation Sans",
            "labelColor": "#000",
            "labelOffset": 15,
            "labelLimit": 0,
            "rowPadding": 40,
            "encode": {
              "symbols": {
                "update": {
                  "shape": {"signal": "datum.value === 'normal plasma + MjTX-III 0.2mg/ml' ? 'M-1,0H-0.14M0.14,0H1M-0.14,-0.14H0.14V0.14H-0.14Z' : 'stroke'"},
                  "strokeWidth": {"signal": "datum.value === 'normal plasma + MjTX-III 1mg/ml' ? 3 : 1"},
                  "strokeDash": {"signal": "datum.value === 'normal plasma + MjTX-III 1mg/ml' ? [6, 10] : datum.value === 'normal plasma + MjTX-III 0.5mg/ml' ? [2.5, 5] : [1, 0]"},
                  "fill": {"value": "transparent"}
                }
              }
            }
          }
        }
      }
    },
    {
      "transform": [{"filter": "datum.sample === 'normal plasma + MjTX-III 1mg/ml'"}],
      "mark": {"type": "line", "color": "#000", "strokeWidth": 2.8, "strokeDash": [5, 4], "interpolate": "linear"}
    },
    {
      "transform": [{"filter": "datum.sample === 'normal plasma + MjTX-III 0.2mg/ml'"}],
      "mark": {"type": "point", "shape": "square", "size": 24, "filled": false, "stroke": "#000", "strokeWidth": 1, "opacity": 1}
    }
  ]
}
